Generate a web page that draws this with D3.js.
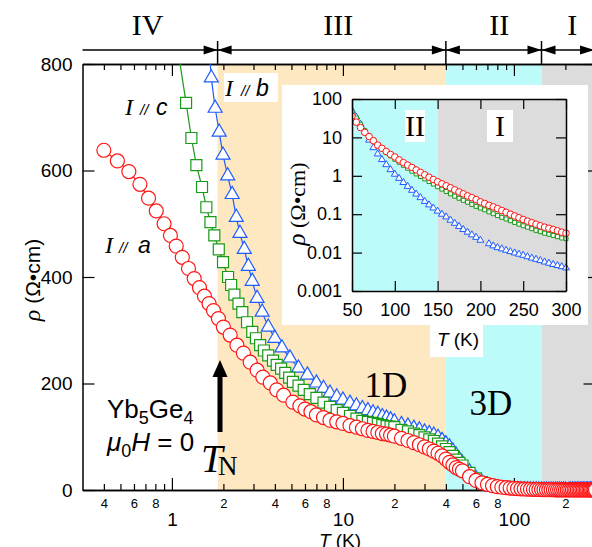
<!DOCTYPE html>
<html>
<head>
<meta charset="utf-8">
<script src="https://cdn.jsdelivr.net/npm/d3@7"></script>
<style>
  body { margin: 0; background: #fff; }
  svg { display: block; }
</style>
</head>
<body>
<svg width="592" height="547"></svg>
<script>
// ---- data: [T (K), rho (Ohm cm)] ----
let seriesA = [[0.40,638],[0.48,618],[0.56,598],[0.65,574],[0.73,548],[0.81,524],[0.90,500],[0.98,478],[1.06,458],[1.15,437],
  [1.25,416],[1.35,397],[1.45,380],[1.55,364],[1.65,350],[1.75,337],[1.87,322],[2.0,306],[2.19,291],[2.4,272],[2.62,257],
  [2.87,240],[3.15,225],[3.4,212],[3.76,201],[4.1,188],[4.5,178],[5.1,165],[5.6,158],[6.0,152],[6.5,147],[7.0,141],[7.7,136],
  [8.4,131],[9.2,128],[10,125],[11,121],[12,118],[13,115],[14,112],[15,110],[16,108],[17,106],[18,105],[19,103],[20,101],
  [22,97],[24,93],[26,89],[28,85],[30,81],[32,77],[34,73],[36,69],[38,64],[40,58],[42,52],[44,47],[46,42],[48,39],
  [50,36],[55,25],[60,18],[65,13.5],[70,10.5],[75,8.2],[80,6.3],[85,5.2],[90,4.3],[95,3.6],[100,3.1],[105,2.6],[110,2.2],
  [115,1.9],[120,1.65],[125,1.42],[130,1.23],[135,1.06],[140,0.92],[145,0.8],[150,0.7],[155,0.62],[160,0.55],[165,0.49],
  [170,0.43],[175,0.38],[180,0.34],[185,0.30],[190,0.27],[195,0.24],[200,0.21],[205,0.19],[210,0.17],[215,0.155],[220,0.14],
  [225,0.125],[230,0.112],[235,0.1],[240,0.09],[245,0.081],[250,0.073],[255,0.066],[260,0.06],[265,0.055],[270,0.05],
  [275,0.046],[280,0.043],[285,0.04],[290,0.037],[295,0.034],[300,0.032]];

let seriesC = [[1.08,830],[1.21,727],[1.30,661],[1.39,610],[1.50,569],[1.59,531],[1.68,503],[1.77,478],[1.88,452],[1.99,428],
  [2.13,400],[2.22,385],[2.32,367],[2.45,350],[2.58,334],[2.75,315],[2.95,297],[3.1,285],[3.28,272],[3.45,262],[3.66,253],
  [3.9,243],[4.1,235],[4.35,228],[4.6,220],[4.85,211],[5.1,203],[5.5,196],[5.9,188],[6.4,180],[7.0,173],[7.7,164],[8.4,156],
  [9.2,150],[10,145],[11,139],[12,134],[13,130],[14,128],[15,126],[16,124],[17,122],[18,120],[19,119],[20,118],[22,113],
  [24,110],[26,106],[28,103],[30,99],[32,95],[34,92],[36,87],[38,82],[40,77],[42,71],[44,64],[46,57],[48,51],
  [50,46],[55,32],[60,22],[65,15],[70,11],[75,8.5],[80,6.5],[85,5.0],[90,4.0],[95,3.3],[100,2.7],[105,2.25],[110,1.88],
  [115,1.57],[120,1.32],[125,1.12],[130,0.96],[135,0.83],[140,0.71],[145,0.61],[150,0.52],[155,0.45],[160,0.39],[165,0.34],
  [170,0.295],[175,0.26],[180,0.23],[185,0.205],[190,0.18],[195,0.16],[200,0.145],[205,0.13],[210,0.115],[215,0.103],
  [220,0.092],[225,0.083],[230,0.075],[235,0.068],[240,0.061],[245,0.055],[250,0.05],[255,0.046],[260,0.042],[265,0.038],
  [270,0.035],[275,0.032],[280,0.03],[285,0.028],[290,0.026],[295,0.024],[300,0.023]];

let seriesB = [[1.62,860],[1.70,774],[1.79,717],[1.89,672],[1.99,629],[2.12,590],[2.25,555],[2.38,512],[2.50,482],[2.65,452],
  [2.80,420],[2.95,392],[3.15,360],[3.37,334],[3.66,306],[4.0,285],[4.4,267],[4.9,248],[5.5,229],[6.2,216],[7.0,201],
  [7.7,191],[8.4,182],[9.2,175],[10,169],[11,163],[12,158],[13,153],[14,149],[15,145],[16,142],[17,138],[18,135],[19,132],
  [20,128],[22,123],[24,120],[26,116],[28,113],[30,109],[32,106],[34,103],[36,99],[38,93],[40,87],[42,81],[44,73],[46,65],
  [48,57],[50,50],[55,34],[60,22],[65,14],[70,8.5],[75,5.4],[80,3.7],[85,2.65],[90,1.95],[95,1.45],[100,1.1],[105,0.86],
  [110,0.67],[115,0.53],[120,0.42],[125,0.335],[130,0.27],[135,0.215],[140,0.175],[145,0.145],[150,0.12],[155,0.1],
  [160,0.085],[165,0.07],[170,0.058],[175,0.048],[180,0.04],[185,0.034],[190,0.029],[195,0.025],[200,0.021],
  [210,0.017],[215,0.015],[220,0.0135],[225,0.0125],[230,0.0115],[235,0.0106],[240,0.0098],[245,0.0091],[250,0.0085],
  [255,0.0078],[260,0.0072],[265,0.0067],[270,0.0062],[275,0.0057],[280,0.0053],[285,0.0049],[290,0.0046],[295,0.0043],
  [300,0.004]];

let phaseNames = ['IV', 'III', 'II', 'I'];
let phaseEdges = [0.3, 1.85, 40, 145, 300];
let phaseLabelT = [0.72, 9.4, 82, 219];
let phaseFill = ['#ffffff', '#fee8c1', '#bdfbfb', '#dcdcdc'];

let mainYTicks = [0, 200, 400, 600, 800];
let mainXMajor = [1, 10, 100];
let mainXMinor = [0.4,0.5,0.6,0.7,0.8,0.9, 2,3,4,5,6,7,8,9, 20,30,40,50,60,70,80,90, 200,300];

let insetXTicks = [50, 100, 150, 200, 250, 300];
let insetYTicks = [0.001, 0.01, 0.1, 1, 10, 100];
let insetYLabels = ['0.001', '0.01', '0.1', '1', '10', '100'];
let insetPhaseEdges = [50, 150, 300];
let insetPhaseNames = ['II', 'I'];
let insetPhaseFill = ['#bdfbfb', '#dcdcdc'];

// ---- layout ----
let width = 592;
let height = 547;
let mLeft = 82.5, mRight = 595.5, mTop = 64, mBottom = 490;
let sans = 'Liberation Sans, Arial, Helvetica, sans-serif';
let serif = 'Liberation Serif, Times New Roman, serif';
let red = '#ff1414', green = '#189a18', blue = '#1f5cff';

let x = d3.scaleLog().domain([0.3, 300]).range([mLeft, mRight]);
let y = d3.scaleLinear().domain([0, 800]).range([mBottom, mTop]);

let svg = d3.select('svg');

// phase shading
svg.append('g')
  .selectAll('rect')
  .data(phaseNames)
  .enter()
  .append('rect')
  .attr('x', (d, i) => x(phaseEdges[i]))
  .attr('y', mTop)
  .attr('width', (d, i) => x(phaseEdges[i + 1]) - x(phaseEdges[i]))
  .attr('height', mBottom - mTop)
  .attr('fill', (d, i) => phaseFill[i]);

// white box behind "I // b"
svg.append('rect').attr('x', 224).attr('y', 73).attr('width', 54).attr('height', 29).attr('fill', '#fff');

// top band with arrows
let band = svg.append('g');
band.append('line').attr('x1', mLeft).attr('x2', 594).attr('y1', 50).attr('y2', 50)
  .attr('stroke', '#000').attr('stroke-width', 1.3);
phaseEdges.slice(1, 4).forEach(t => {
  let bx = x(t);
  band.append('line').attr('x1', bx).attr('x2', bx).attr('y1', 41).attr('y2', mTop)
    .attr('stroke', '#000').attr('stroke-width', 1.5);
  band.append('path').attr('d', `M${bx},50 L${bx - 14},45.5 L${bx - 14},54.5 Z`).attr('fill', '#000');
  band.append('path').attr('d', `M${bx},50 L${bx + 14},45.5 L${bx + 14},54.5 Z`).attr('fill', '#000');
});
band.append('path').attr('d', 'M594,50 L580,45.5 L580,54.5 Z').attr('fill', '#000');
band.selectAll('text')
  .data(phaseNames)
  .enter()
  .append('text')
  .attr('x', (d, i) => x(phaseLabelT[i]))
  .attr('y', 35)
  .attr('text-anchor', 'middle')
  .style('font-family', serif)
  .style('font-size', '30px')
  .text(d => d);

// ---- axes ----
function styleAxis(g, size) {
  g.select('.domain').attr('stroke-width', 1.5);
  g.selectAll('.tick line').attr('stroke-width', 1.2);
  g.selectAll('text').style('font-family', sans).style('font-size', size + 'px').attr('fill', '#000');
}
function leading(d) {
  let m = Math.round(d / Math.pow(10, Math.floor(Math.log10(d) + 1e-9)));
  return [2, 4, 6, 8].includes(m) ? String(m) : '';
}

svg.append('g').attr('transform', `translate(0,${mBottom})`)
  .call(d3.axisBottom(x).tickValues(mainXMinor).tickSize(-6).tickSizeOuter(0).tickPadding(9).tickFormat(leading))
  .call(g => styleAxis(g, 13));
svg.append('g').attr('transform', `translate(0,${mBottom})`)
  .call(d3.axisBottom(x).tickValues(mainXMajor).tickSize(-12).tickSizeOuter(0).tickPadding(23).tickFormat(d3.format('d')))
  .call(g => styleAxis(g, 19));
svg.append('g').attr('transform', `translate(0,${mTop})`)
  .call(d3.axisTop(x).tickValues(mainXMinor).tickSize(-6).tickSizeOuter(0).tickFormat(''))
  .call(g => styleAxis(g, 13));
svg.append('g').attr('transform', `translate(0,${mTop})`)
  .call(d3.axisTop(x).tickValues(mainXMajor).tickSize(-12).tickSizeOuter(0).tickFormat(''))
  .call(g => styleAxis(g, 13));
svg.append('g').attr('transform', `translate(${mLeft},0)`)
  .call(d3.axisLeft(y).tickValues(mainYTicks).tickSize(-12).tickSizeOuter(0).tickPadding(10))
  .call(g => styleAxis(g, 19));
svg.append('g').attr('transform', `translate(${mRight},0)`)
  .call(d3.axisRight(y).tickValues(mainYTicks).tickSize(-12).tickSizeOuter(0).tickFormat(''))
  .call(g => styleAxis(g, 19));

// axis titles
svg.append('text')
  .attr('x', 340).attr('y', 547)
  .attr('text-anchor', 'middle')
  .style('font-family', sans).style('font-size', '19px')
  .call(t => { t.append('tspan').style('font-style', 'italic').text('T'); t.append('tspan').text(' (K)'); });

svg.append('text')
  .attr('transform', 'translate(40,280) rotate(-90)')
  .attr('text-anchor', 'middle')
  .style('font-size', '21px')
  .call(t => {
    t.append('tspan').style('font-family', serif).style('font-style', 'italic').style('font-size', '24px').text('ρ');
    t.append('tspan').style('font-family', sans).text(' (Ω•cm)');
  });

// ---- data marks (main) ----
svg.append('clipPath').attr('id', 'clipMain')
  .append('rect').attr('x', 0).attr('y', mTop).attr('width', width + 10).attr('height', height - mTop);

let plot = svg.append('g').attr('clip-path', 'url(#clipMain)');
let line = d3.line().x(d => x(d[0])).y(d => y(d[1]));

let triMain = d3.symbol().type(d3.symbolTriangle).size(85);
let sqMain = d3.symbol().type(d3.symbolSquare).size(121);

plot.append('path').datum(seriesB).attr('d', line).attr('fill', 'none').attr('stroke', blue).attr('stroke-width', 1.2);
plot.append('g').selectAll('path').data(seriesB).enter().append('path')
  .attr('d', triMain)
  .attr('transform', d => `translate(${x(d[0])},${y(d[1])})`)
  .attr('fill', '#fff').attr('stroke', blue).attr('stroke-width', 1.2);

plot.append('path').datum(seriesC).attr('d', line).attr('fill', 'none').attr('stroke', green).attr('stroke-width', 1.2);
plot.append('g').selectAll('path').data(seriesC).enter().append('path')
  .attr('d', sqMain)
  .attr('transform', d => `translate(${x(d[0])},${y(d[1])})`)
  .attr('fill', '#fff').attr('stroke', green).attr('stroke-width', 1.2);

plot.append('path').datum(seriesA).attr('d', line).attr('fill', 'none').attr('stroke', red).attr('stroke-width', 1.2);
plot.append('g').selectAll('circle').data(seriesA).enter().append('circle')
  .attr('cx', d => x(d[0])).attr('cy', d => y(d[1])).attr('r', 7)
  .attr('fill', '#fff').attr('stroke', red).attr('stroke-width', 1.2);

// ---- labels (main) ----
function curLabel(p, letter) {
  let g = svg.append('g');
  g.append('text').attr('x', p[0]).attr('y', p[3])
    .style('font-family', serif).style('font-style', 'italic').style('font-size', '24px').text('I');
  g.append('text').attr('x', p[1]).attr('y', p[3])
    .style('font-family', sans).style('font-style', 'italic').style('font-size', '15px').text('//');
  g.append('text').attr('x', p[2]).attr('y', p[3])
    .style('font-family', sans).style('font-style', 'italic').style('font-size', '23px').text(letter);
}
curLabel([105, 119, 138, 253], 'a');
curLabel([125, 140, 156, 115], 'c');
curLabel([225, 241, 256, 96], 'b');

svg.append('text').attr('x', 107).attr('y', 418)
  .style('font-family', sans).style('font-size', '26px')
  .call(t => {
    t.append('tspan').text('Yb');
    t.append('tspan').attr('dy', 6).style('font-size', '18px').text('5');
    t.append('tspan').attr('dy', -6).text('Ge');
    t.append('tspan').attr('dy', 6).style('font-size', '18px').text('4');
  });
svg.append('text').attr('x', 107).attr('y', 451)
  .style('font-family', sans).style('font-size', '26px')
  .call(t => {
    t.append('tspan').style('font-style', 'italic').text('μ');
    t.append('tspan').attr('dy', 6).style('font-size', '18px').text('0');
    t.append('tspan').attr('dy', -6).style('font-style', 'italic').text('H');
    t.append('tspan').text(' = 0');
  });

// T_N arrow
svg.append('rect').attr('x', 217.5).attr('y', 374).attr('width', 5).attr('height', 58).attr('fill', '#000');
svg.append('path').attr('d', 'M220,360 L212.5,377 L227.5,377 Z').attr('fill', '#000');
svg.append('text').attr('x', 201).attr('y', 472)
  .style('font-family', serif).style('font-style', 'italic').style('font-size', '39px').text('T');
svg.append('text').attr('x', 218).attr('y', 475)
  .style('font-family', serif).style('font-size', '27px').text('N');

svg.append('text').attr('x', 386).attr('y', 397).attr('text-anchor', 'middle')
  .style('font-family', serif).style('font-size', '35px').text('1D');
svg.append('text').attr('x', 491).attr('y', 415).attr('text-anchor', 'middle')
  .style('font-family', serif).style('font-size', '35px').text('3D');

// ---- inset ----
let ix = d3.scaleLinear().domain([50, 300]).range([352, 566]);
let iy = d3.scaleLog().domain([0.001, 100]).range([291, 99]);
let inset = svg.append('g');

inset.append('rect').attr('x', 282).attr('y', 85).attr('width', 306).attr('height', 240).attr('fill', '#fff');
inset.append('rect').attr('x', 430).attr('y', 324).attr('width', 53).attr('height', 33).attr('fill', '#fff');

inset.append('g').selectAll('rect')
  .data(insetPhaseNames)
  .enter()
  .append('rect')
  .attr('x', (d, i) => ix(insetPhaseEdges[i]))
  .attr('y', iy(100))
  .attr('width', (d, i) => ix(insetPhaseEdges[i + 1]) - ix(insetPhaseEdges[i]))
  .attr('height', iy(0.001) - iy(100))
  .attr('fill', (d, i) => insetPhaseFill[i]);

[[405, 20], [487, 26]].forEach((b, i) => {
  inset.append('rect').attr('x', b[0]).attr('y', 110).attr('width', b[1]).attr('height', 32).attr('fill', '#fff');
  inset.append('text').attr('x', b[0] + b[1] / 2).attr('y', 136).attr('text-anchor', 'middle')
    .style('font-family', serif).style('font-size', '30px').text(insetPhaseNames[i]);
});

svg.append('clipPath').attr('id', 'clipInset')
  .append('rect').attr('x', 352).attr('y', 95).attr('width', 218).attr('height', 196);
let iplot = inset.append('g').attr('clip-path', 'url(#clipInset)');
let triIn = d3.symbol().type(d3.symbolTriangle).size(21);
let sqIn = d3.symbol().type(d3.symbolSquare).size(16);

iplot.append('g').selectAll('path').data(seriesB.filter(d => d[0] >= 50)).enter().append('path')
  .attr('d', triIn)
  .attr('transform', d => `translate(${ix(d[0])},${iy(d[1])})`)
  .attr('fill', '#fff').attr('stroke', blue).attr('stroke-width', 1);
iplot.append('g').selectAll('path').data(seriesC.filter(d => d[0] >= 50)).enter().append('path')
  .attr('d', sqIn)
  .attr('transform', d => `translate(${ix(d[0])},${iy(d[1])})`)
  .attr('fill', '#fff').attr('stroke', green).attr('stroke-width', 1);
iplot.append('g').selectAll('circle').data(seriesA.filter(d => d[0] >= 50)).enter().append('circle')
  .attr('cx', d => ix(d[0])).attr('cy', d => iy(d[1])).attr('r', 3.3)
  .attr('fill', '#fff').attr('stroke', red).attr('stroke-width', 1);

inset.append('g').attr('transform', 'translate(0,291)')
  .call(d3.axisBottom(ix).tickValues(insetXTicks).tickSize(-10).tickSizeOuter(0).tickPadding(12).tickFormat(d3.format('d')))
  .call(g => styleAxis(g, 18));
inset.append('g').attr('transform', 'translate(0,99)')
  .call(d3.axisTop(ix).tickValues(insetXTicks).tickSize(-10).tickSizeOuter(0).tickFormat(''))
  .call(g => styleAxis(g, 18));
inset.append('g').attr('transform', 'translate(352,0)')
  .call(d3.axisLeft(iy).tickValues(insetYTicks).tickSize(-10).tickSizeOuter(0).tickPadding(10)
    .tickFormat((d, i) => insetYLabels[i]))
  .call(g => styleAxis(g, 18));
inset.append('g').attr('transform', 'translate(566,0)')
  .call(d3.axisRight(iy).tickValues(insetYTicks).tickSize(-10).tickSizeOuter(0).tickFormat(''))
  .call(g => styleAxis(g, 18));

inset.append('text')
  .attr('x', 458).attr('y', 346)
  .attr('text-anchor', 'middle')
  .style('font-family', sans).style('font-size', '19px')
  .call(t => { t.append('tspan').style('font-style', 'italic').text('T'); t.append('tspan').text(' (K)'); });

inset.append('text')
  .attr('transform', 'translate(305,204) rotate(-90)')
  .attr('text-anchor', 'middle')
  .style('font-family', serif).style('font-size', '22px')
  .call(t => {
    t.append('tspan').style('font-style', 'italic').style('font-size', '25px').text('ρ');
    t.append('tspan').text(' (Ω•cm)');
  });
</script>
</body>
</html>
